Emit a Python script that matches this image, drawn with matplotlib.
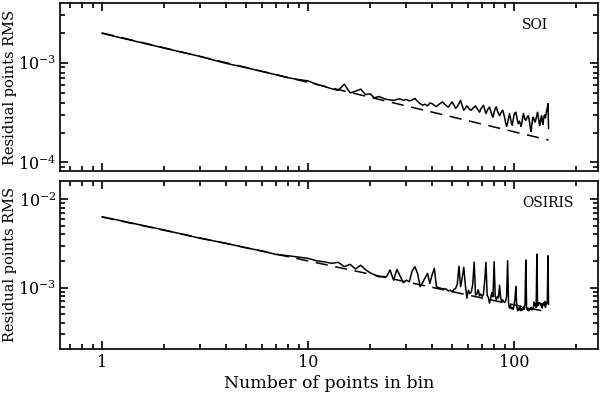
import numpy as np
from matplotlib import pyplot as plt
from matplotlib.ticker import LogLocator, NullFormatter, FixedLocator, FixedFormatter

plt.rcParams['font.family'] = ['DejaVu Serif']
plt.rcParams['mathtext.fontset'] = 'dejavuserif'

# bin sizes 1..147
nbin = np.arange(1, 148)

soi_rms = [
    1.98e-3, 1.41e-3, 1.16e-3, 9.9e-4, 8.95e-4, 8.2e-4, 7.6e-4, 7.1e-4, 6.8e-4, 6.6e-4,
    6.1e-4, 5.8e-4, 5.5e-4, 5.3e-4, 6.1e-4, 5.0e-4, 5.2e-4, 5.45e-4, 4.8e-4, 4.9e-4,
    4.45e-4, 4.6e-4, 4.45e-4, 4.3e-4, 4.25e-4, 4.2e-4, 4.3e-4, 4.35e-4, 4.2e-4, 4.3e-4,
    4.15e-4, 4.25e-4, 4.4e-4, 4.1e-4, 3.9e-4, 3.76e-4, 3.85e-4, 3.7e-4, 3.95e-4, 3.9e-4,
    3.75e-4, 3.65e-4, 3.8e-4, 3.95e-4, 4.05e-4, 3.85e-4, 3.7e-4, 3.6e-4, 3.85e-4, 4.05e-4,
    3.8e-4, 3.5e-4, 3.65e-4, 3.9e-4, 4.2e-4, 3.7e-4, 3.35e-4, 3.5e-4, 3.7e-4, 3.55e-4,
    3.4e-4, 3.35e-4, 3.5e-4, 3.6e-4, 3.7e-4, 3.5e-4, 3.35e-4, 3.2e-4, 3.45e-4, 3.6e-4,
    3.75e-4, 3.4e-4, 3.1e-4, 3.3e-4, 3.5e-4, 3.6e-4, 3.3e-4, 3.0e-4, 2.85e-4, 3.2e-4,
    3.5e-4, 3.62e-4, 3.3e-4, 3.1e-4, 2.95e-4, 3.1e-4, 3.25e-4, 3.35e-4, 3.1e-4, 2.8e-4,
    2.5e-4, 2.3e-4, 2.5e-4, 2.8e-4, 3.1e-4, 2.8e-4, 2.5e-4, 2.37e-4, 2.7e-4, 3.0e-4,
    3.15e-4, 3.2e-4, 2.9e-4, 2.6e-4, 2.45e-4, 2.6e-4, 2.5e-4, 2.3e-4, 2.45e-4, 2.8e-4,
    3.1e-4, 2.9e-4, 2.7e-4, 2.65e-4, 2.75e-4, 2.9e-4, 2.95e-4, 2.8e-4, 2.5e-4, 2.2e-4,
    2.05e-4, 2.4e-4, 2.8e-4, 2.85e-4, 2.7e-4, 2.55e-4, 2.6e-4, 2.8e-4, 3.0e-4, 3.2e-4,
    2.9e-4, 2.6e-4, 2.35e-4, 2.5e-4, 2.8e-4, 2.95e-4, 2.6e-4, 2.4e-4, 2.7e-4, 2.95e-4,
    3.0e-4, 2.8e-4, 3.1e-4, 3.35e-4, 3.5e-4, 3.9e-4, 2.2e-4,
]

osiris_rms = [
    6.35e-3, 4.5e-3, 3.62e-3, 3.18e-3, 2.83e-3, 2.6e-3, 2.38e-3, 2.3e-3, 2.22e-3, 2.15e-3,
    2.02e-3, 1.96e-3, 1.89e-3, 1.94e-3, 1.73e-3, 1.84e-3, 1.63e-3, 1.8e-3, 1.6e-3, 1.48e-3,
    1.4e-3, 1.33e-3, 1.34e-3, 1.33e-3, 1.59e-3, 1.22e-3, 1.61e-3, 1.35e-3, 1.14e-3, 1.22e-3,
    1.17e-3, 1.55e-3, 1.73e-3, 1.45e-3, 1.03e-3, 1.15e-3, 1.3e-3, 1.45e-3, 1.12e-3, 1.4e-3,
    1.66e-3, 1.03e-3, 1.0e-3, 9.9e-4, 9.7e-4, 9.8e-4, 9.6e-4, 9.2e-4, 9.4e-4, 9.0e-4,
    9.6e-4, 9.8e-4, 1.1e-3, 1.75e-3, 1.03e-3, 1.3e-3, 1.7e-3, 1.07e-3, 7.6e-4, 9.4e-4,
    8.6e-4, 9.0e-4, 1.1e-3, 1.95e-3, 8.3e-4, 8.5e-4, 9.5e-4, 8.1e-4, 8.5e-4, 8.0e-4,
    8.4e-4, 1.2e-3, 1.94e-3, 8.2e-4, 7.8e-4, 6.7e-4, 7.6e-4, 8.8e-4, 7.9e-4, 1.97e-3,
    8.0e-4, 7.2e-4, 8.0e-4, 7.7e-4, 1.07e-3, 7.8e-4, 6.95e-4, 7.3e-4, 7.0e-4, 6.8e-4,
    7.1e-4, 8.0e-4, 2.02e-3, 6.6e-4, 5.9e-4, 6.3e-4, 5.8e-4, 6.0e-4, 5.7e-4, 6.4e-4,
    7.5e-4, 1.03e-3, 6.2e-4, 5.5e-4, 5.9e-4, 5.6e-4, 6.0e-4, 5.5e-4, 5.8e-4, 5.6e-4,
    6.1e-4, 5.7e-4, 6.5e-4, 2.06e-3, 6.0e-4, 5.6e-4, 5.9e-4, 5.5e-4, 5.8e-4, 5.7e-4,
    6.0e-4, 5.6e-4, 5.9e-4, 5.8e-4, 6.9e-4, 6.3e-4, 6.6e-4, 6.0e-4, 2.4e-3, 6.2e-4,
    6.5e-4, 6.8e-4, 6.6e-4, 6.7e-4, 6.3e-4, 6.6e-4, 5.9e-4, 6.5e-4, 6.8e-4, 6.4e-4,
    7.0e-4, 6.0e-4, 6.8e-4, 6.6e-4, 7.2e-4, 2.3e-3, 6.5e-4,
]

# expected 1/sqrt(N) lines (end points)
soi_fit_x = [1, 147]
soi_fit_y = [2.0e-3, 1.68e-4]
osiris_fit_x = [1, 147]
osiris_fit_y = [6.3e-3, 5.3e-4]

fig = plt.figure(figsize=(6, 3.96), dpi=100)
ax1 = fig.add_axes([0.1, 0.568, 0.897, 0.424])
ax2 = fig.add_axes([0.1, 0.119, 0.897, 0.424])

panels = [
    (ax1, soi_rms, soi_fit_x, soi_fit_y, 'SOI', 0.883, (8.2e-5, 3.98e-3)),
    (ax2, osiris_rms, osiris_fit_x, osiris_fit_y, 'OSIRIS', 0.907, (2.04e-4, 1.61e-2)),
]

for ax, rms, fx, fy, name, tx, ylim in panels:
    ax.plot(fx, fy, color='k', lw=1.1, dashes=(8, 5))
    ax.plot(nbin, rms, color='k', lw=1.1)
    ax.set_xscale('log')
    ax.set_yscale('log')
    ax.set_xlim(0.625, 256)
    ax.set_ylim(*ylim)
    ax.text(tx, 0.87, name, transform=ax.transAxes, ha='center', va='center', fontsize=10)
    ax.set_ylabel('Residual points RMS', fontsize=10.5)
    ax.yaxis.set_label_coords(-0.08, 0.5)
    ax.xaxis.set_major_locator(FixedLocator([1, 10, 100]))
    ax.xaxis.set_minor_locator(LogLocator(base=10, subs=np.arange(2, 10)))
    ax.yaxis.set_major_locator(LogLocator(base=10))
    ax.yaxis.set_minor_locator(LogLocator(base=10, subs=np.arange(2, 10)))
    ax.yaxis.set_minor_formatter(NullFormatter())
    ax.xaxis.set_minor_formatter(NullFormatter())
    ax.tick_params(which='both', direction='in', top=True, right=True, width=1.2, labelsize=11.5)
    ax.tick_params(axis='y', pad=2.5)
    ax.tick_params(which='major', length=6)
    ax.tick_params(which='minor', length=3.5)
    for s in ax.spines.values():
        s.set_linewidth(1.2)

ax1.xaxis.set_major_formatter(NullFormatter())
ax2.xaxis.set_major_formatter(FixedFormatter(['1', '10', '100']))
ax2.set_xlabel('Number of points in bin', fontsize=12.5, labelpad=3)

plt.savefig('out.png', dpi=100)
